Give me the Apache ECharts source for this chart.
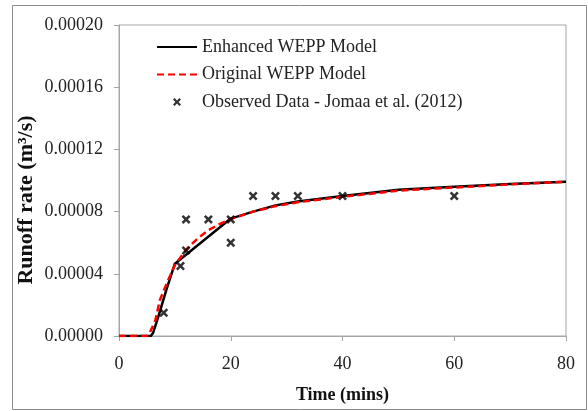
<!DOCTYPE html>
<html>
<head>
<meta charset="utf-8">
<script src="https://cdn.jsdelivr.net/npm/echarts@6/dist/echarts.min.js"></script>
<style>html,body{margin:0;padding:0;background:#fff;}#c{width:588px;height:411px;}</style>
</head>
<body>
<div id="c"></div>
<script>
// Enhanced WEPP Model (time in mins, runoff m3/s)
var enhancedT = [0, 5.7, 6.1, 7, 8.5, 10, 20, 24, 28, 32, 40, 50, 60, 70, 80];
var enhancedV = [0, 0, 0.000002, 0.000012, 0.00003, 0.0000465, 0.0000755, 0.00008, 0.000084, 0.0000865, 0.00009, 0.000094, 0.000096, 0.0000978, 0.0000992];
// Original WEPP Model
var originalT = [0, 5, 5.5, 6.5, 7.3, 8.8, 10, 12, 14, 16, 18, 20, 24, 28, 32, 40, 50, 60, 70, 80];
var originalV = [0, 0, 0.000002, 0.00001, 0.000023, 0.000036, 0.0000455, 0.0000555, 0.0000625, 0.000068, 0.000072, 0.0000752, 0.00008, 0.0000835, 0.000086, 0.0000895, 0.0000935, 0.0000955, 0.0000975, 0.0000992];
// Observed Data - Jomaa et al. (2012)
var observedT = [8, 11, 12, 12, 16, 20, 20, 24, 28, 32, 40, 60];
var observedV = [0.000015, 0.000045, 0.000075, 0.000055, 0.000075, 0.000075, 0.00006, 0.00009, 0.00009, 0.00009, 0.00009, 0.00009];

var seriesNames = ['Enhanced WEPP Model', 'Original WEPP Model', 'Observed Data - Jomaa et al. (2012)'];
var xTitle = 'Time (mins)';
var yTitle = 'Runoff rate (m\u00B3/s)';

function zip(a, b) { return a.map(function (v, i) { return [v, b[i]]; }); }

var serif = '"Liberation Serif", "Times New Roman", serif';
var xMark = 'path://M0,2 L2,0 L5,3 L8,0 L10,2 L7,5 L10,8 L8,10 L5,7 L2,10 L0,8 L3,5 Z';

var chart = echarts.init(document.getElementById('c'), null, { renderer: 'canvas' });
chart.setOption({
  animation: false,
  backgroundColor: '#fff',
  graphic: [{
    type: 'rect', shape: { x: 12.5, y: 5.5, width: 574, height: 404 },
    style: { fill: 'none', stroke: '#8c8c8c', lineWidth: 1 }, silent: true, z: -1
  }, {
    type: 'text', x: 26, y: 200, rotation: Math.PI / 2, silent: true,
    style: { text: yTitle, font: 'bold 22px ' + serif, fill: '#111', align: 'center', verticalAlign: 'middle' }
  }],
  grid: { left: 119, right: 22, top: 25, bottom: 75, show: true, borderColor: '#a6a6a6', borderWidth: 1, backgroundColor: 'transparent' },
  legend: {
    orient: 'vertical', left: 156, top: 38, padding: 0, itemWidth: 40, itemHeight: 8, itemGap: 9.5,
    textStyle: { fontFamily: serif, fontSize: 18, color: '#222', lineHeight: 18 },
    data: [
      { name: seriesNames[0], itemStyle: { opacity: 0 } },
      { name: seriesNames[1], itemStyle: { opacity: 0 } },
      { name: seriesNames[2] }
    ]
  },
  xAxis: {
    type: 'value', min: 0, max: 80, interval: 20,
    name: xTitle, nameLocation: 'middle', nameGap: 50,
    nameTextStyle: { fontFamily: serif, fontSize: 18, fontWeight: 'bold', color: '#111' },
    axisLine: { lineStyle: { color: '#a6a6a6', width: 1 } },
    axisTick: { show: true, length: 5, lineStyle: { color: '#a6a6a6' } },
    axisLabel: { fontFamily: serif, fontSize: 18, color: '#222', margin: 19 },
    splitLine: { show: false }
  },
  yAxis: {
    type: 'value', min: 0, max: 0.0002, interval: 0.00004,
    axisLine: { show: true, lineStyle: { color: '#a6a6a6', width: 1 } },
    axisTick: { show: true, length: 5, lineStyle: { color: '#a6a6a6' } },
    axisLabel: { fontFamily: serif, fontSize: 18, color: '#222', margin: 16,
      formatter: function (v) { return v.toFixed(5); } },
    splitLine: { show: false }
  },
  series: [
    {
      name: seriesNames[0], type: 'line', data: zip(enhancedT, enhancedV),
      symbol: 'none', lineStyle: { color: '#000', width: 2.5 }, itemStyle: { color: '#000' }, z: 2
    },
    {
      name: seriesNames[1], type: 'line', data: zip(originalT, originalV),
      symbol: 'none', lineStyle: { color: '#ff0000', width: 2.5, type: [7, 4] }, itemStyle: { color: '#ff0000' }, z: 3
    },
    {
      name: seriesNames[2], type: 'scatter', data: zip(observedT, observedV),
      symbol: xMark, symbolSize: 9, symbolKeepAspect: true, itemStyle: { color: '#000' }, z: 4
    }
  ]
});
</script>
</body>
</html>
